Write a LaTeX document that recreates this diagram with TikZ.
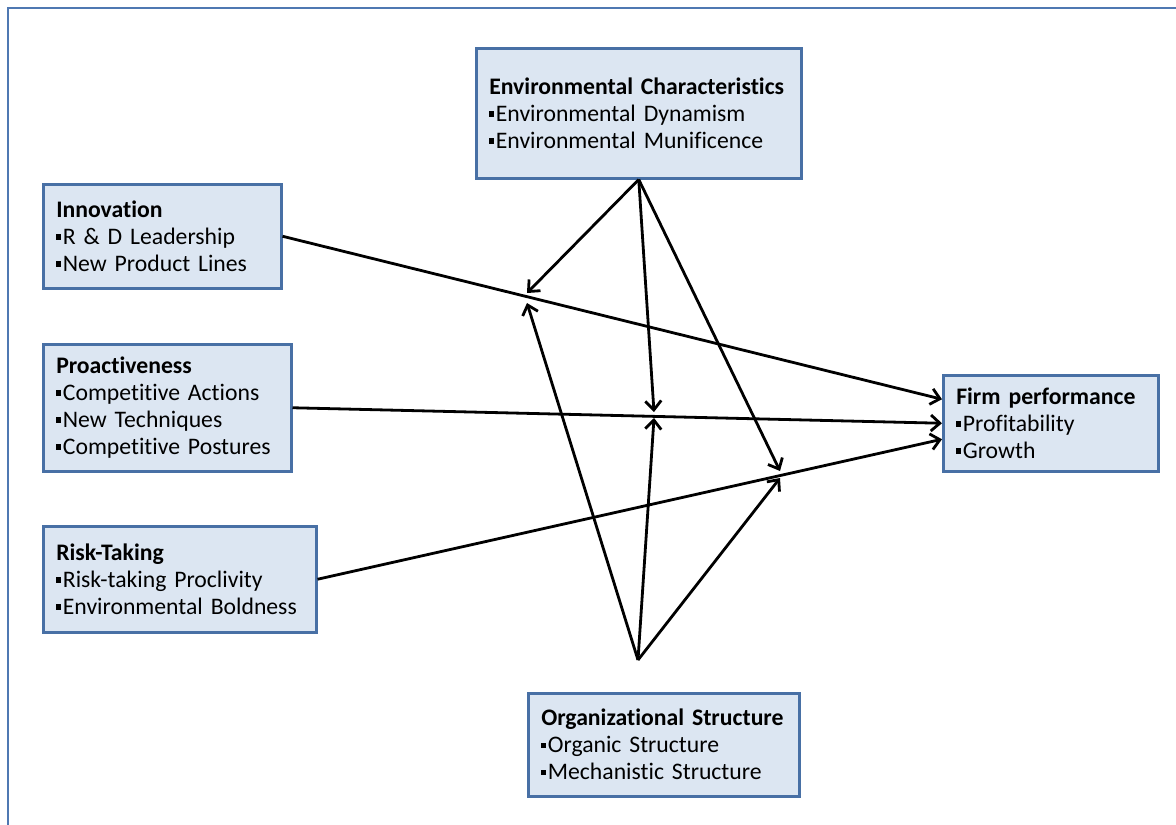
\documentclass[tikz,border=0pt]{standalone}
\usepackage{fontspec}
\setmainfont{Carlito}[Ligatures=NoCommon]
\usetikzlibrary{arrows.meta,calc}
\definecolor{boxfill}{RGB}{220,230,242}
\definecolor{boxline}{RGB}{72,112,165}
\definecolor{framecol}{RGB}{79,120,178}
% small square-ish list bullet
\newcommand{\itembul}{\rule[0.2em]{0.22em}{0.24em}\hspace{0.06em}}
\begin{document}
\begin{tikzpicture}[x=1pt,y=-1pt,
  box/.style={draw=boxline,fill=boxfill,line width=2.5pt,anchor=north west,
    align=left,inner xsep=13pt,inner ysep=0pt,
    font=\fontsize{23.7}{27}\selectfont},
  link/.style={line width=2.8pt,-{Straight Barb[length=9pt,width=16pt,line width=2.8pt]}}]
\useasboundingbox (0,0) rectangle (1176,825);
% page frame
\draw[framecol,line width=2.5pt] (8,830) -- (8,8) -- (1180,8);

% construct boxes
\node[box,minimum width=325pt,minimum height=130pt,text width=299pt] (env) at (475,47)
  {\textbf{Environmental Characteristics}\\\itembul Environmental Dynamism\\\itembul Environmental Munificence};
\node[box,minimum width=238pt,minimum height=104pt,text width=212pt] (inno) at (42,183)
  {\textbf{Innovation}\\\itembul R \& D Leadership\\\itembul New Product Lines};
\node[box,minimum width=248pt,minimum height=127pt,text width=222pt] (pro) at (42,343)
  {\textbf{Proactiveness}\\\itembul Competitive Actions\\\itembul New Techniques\\\itembul Competitive Postures};
\node[box,minimum width=273pt,minimum height=106pt,text width=247pt] (risk) at (42,525)
  {\textbf{Risk-Taking}\\\itembul Risk-taking Proclivity\\\itembul Environmental Boldness};
\node[box,minimum width=215pt,minimum height=96pt,text width=189pt] (firm) at (942,374)
  {\textbf{Firm performance}\\\itembul Profitability\\\itembul Growth};
\node[box,minimum width=271pt,minimum height=103pt,text width=245pt] (org) at (527,692)
  {\textbf{Organizational Structure}\\\itembul Organic Structure\\\itembul Mechanistic Structure};

% moderator apex and points on the main paths
\coordinate (orgtip) at (638,660);
\coordinate (e1) at (527,293);  \coordinate (o1) at (527,303);
\coordinate (e2) at (654,412);  \coordinate (o2) at (654,418);
\coordinate (e3) at (780,471);  \coordinate (o3) at (780,478);

% main effects
\draw[link] (inno.east) -- ([yshift=24pt]firm.west);
\draw[link] (pro.east) -- (firm.west);
\draw[link] (risk.east) -- ([yshift=-16pt]firm.west);

% environmental moderation
\draw[link] (env.south) -- (e1);
\draw[link] (env.south) -- (e2);
\draw[link] (env.south) -- (e3);

% structural moderation
\draw[link] (orgtip) -- (o1);
\draw[link] (orgtip) -- (o2);
\draw[link] (orgtip) -- (o3);
\end{tikzpicture}
\end{document}
